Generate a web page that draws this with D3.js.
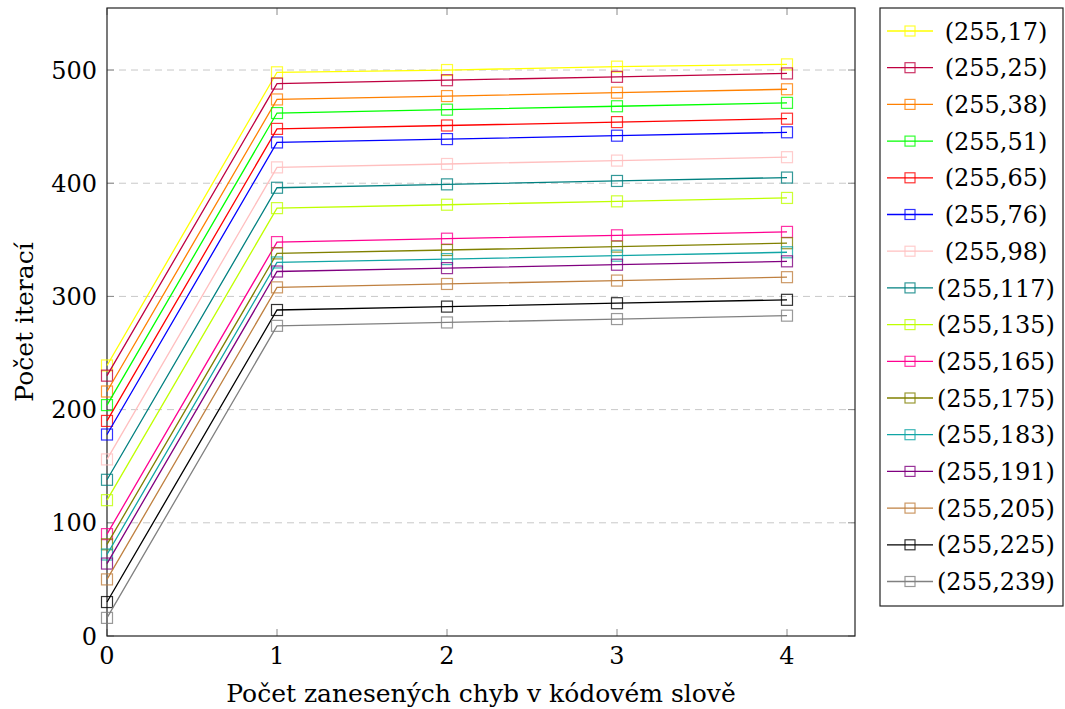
<!DOCTYPE html>
<html>
<head>
<meta charset="utf-8">
<script src="https://cdn.jsdelivr.net/npm/d3@7"></script>
<style>
  html, body { margin: 0; padding: 0; background: #fff; }
  svg { display: block; }
</style>
</head>
<body>
<svg id="chart" width="1065" height="709"></svg>
<script>
// ---- data ----
const xValues = [0, 1, 2, 3, 4];
const seriesNames = ["(255,17)", "(255,25)", "(255,38)", "(255,51)", "(255,65)", "(255,76)", "(255,98)", "(255,117)",
  "(255,135)", "(255,165)", "(255,175)", "(255,183)", "(255,191)", "(255,205)", "(255,225)", "(255,239)"];
const seriesColors = ["#ffff00", "#bf0040", "#ff8000", "#00ff00", "#ff0000", "#0000ff", "#ffbfbf", "#008080",
  "#bfff00", "#ff0090", "#808000", "#10a5a5", "#800080", "#bf8040", "#000000", "#808080"];
const s17  = [239, 498, 500, 503, 505];
const s25  = [230, 488, 491, 494, 497];
const s38  = [216, 474, 477, 480, 483];
const s51  = [204, 462, 465, 468, 471];
const s65  = [190, 448, 451, 454, 457];
const s76  = [178, 436, 439, 442, 445];
const s98  = [156, 414, 417, 420, 423];
const s117 = [138, 396, 399, 402, 405];
const s135 = [120, 378, 381, 384, 387];
const s165 = [90, 348, 351, 354, 357];
const s175 = [81, 338, 341, 344, 347];
const s183 = [72, 330, 333, 336, 339];
const s191 = [64, 322, 325, 328, 331];
const s205 = [50, 308, 311, 314, 317];
const s225 = [30, 288, 291, 294, 297];
const s239 = [16, 274, 277, 280, 283];
const seriesValues = [s17, s25, s38, s51, s65, s76, s98, s117, s135, s165, s175, s183, s191, s205, s225, s239];
const xTicks = [0, 1, 2, 3, 4];
const yTicks = [0, 100, 200, 300, 400, 500];
const xLabel = "Počet zanesených chyb v kódovém slově";
const yLabel = "Počet iterací";

// ---- layout ----
const FONT = "DejaVu Serif";
const svg = d3.select("#chart");
const L = 107, R = 855, T = 8, B = 636;
const x = d3.scaleLinear().domain([0, 4.4]).range([L, R]);
const y = d3.scaleLinear().domain([0, 554.8]).range([B, T]);
const fs = 24, fsLab = 25;

function txt(g, size) {
  return g.append("text").attr("font-family", FONT).attr("font-size", size || fs).attr("fill", "#000");
}

// grid
svg.append("g").selectAll("line").data(yTicks.filter(d => d > 0)).join("line")
  .attr("x1", L).attr("x2", R).attr("y1", d => y(d)).attr("y2", d => y(d))
  .attr("stroke", "#c8c8c8").attr("stroke-width", 1).attr("stroke-dasharray", "7,5");

// ticks (inward, both sides)
const tk = 7;
const tg = svg.append("g").attr("stroke", "#8a8a8a").attr("stroke-width", 1);
xTicks.forEach(d => {
  tg.append("line").attr("x1", x(d)).attr("x2", x(d)).attr("y1", B).attr("y2", B - tk);
  tg.append("line").attr("x1", x(d)).attr("x2", x(d)).attr("y1", T).attr("y2", T + tk);
});
yTicks.forEach(d => {
  tg.append("line").attr("x1", L).attr("x2", L + tk).attr("y1", y(d)).attr("y2", y(d));
  tg.append("line").attr("x1", R).attr("x2", R - tk).attr("y1", y(d)).attr("y2", y(d));
});

// frame
svg.append("rect").attr("x", L).attr("y", T).attr("width", R - L).attr("height", B - T)
  .attr("fill", "none").attr("stroke", "#222").attr("stroke-width", 1.2);

// tick labels
const xl = svg.append("g");
xTicks.forEach(d => txt(xl).attr("x", x(d)).attr("y", 664).attr("text-anchor", "middle").text(d));
const yl = svg.append("g");
yTicks.forEach(d => txt(yl).attr("x", 97).attr("y", y(d)).attr("dy", "0.36em").attr("text-anchor", "end").text(d));

// axis labels
txt(svg, fsLab).attr("x", (L + R) / 2).attr("y", 702).attr("text-anchor", "middle").text(xLabel);
txt(svg, fsLab).attr("transform", `translate(33,${(T + B) / 2}) rotate(-90)`)
  .attr("text-anchor", "middle").text(yLabel);

// series
const line = d3.line().x((d, i) => x(xValues[i])).y(d => y(d));
const ms = 11;
seriesValues.forEach((vals, si) => {
  const c = seriesColors[si];
  const g = svg.append("g");
  g.append("path").attr("d", line(vals)).attr("fill", "none").attr("stroke", c).attr("stroke-width", 1.3);
  g.selectAll("rect").data(vals).join("rect")
    .attr("x", (d, i) => x(xValues[i]) - ms / 2).attr("y", d => y(d) - ms / 2)
    .attr("width", ms).attr("height", ms)
    .attr("fill", "none").attr("stroke", c).attr("stroke-width", 1.2).attr("stroke-opacity", 0.8);
});

// legend
const lg = svg.append("g");
lg.append("rect").attr("x", 880).attr("y", 8).attr("width", 183).attr("height", 598)
  .attr("fill", "#fff").attr("stroke", "#222").attr("stroke-width", 1.2);
const rowY0 = 31, rowStep = 36.7;
seriesNames.forEach((name, i) => {
  const cy = rowY0 + i * rowStep;
  const c = seriesColors[i];
  lg.append("line").attr("x1", 887).attr("x2", 933).attr("y1", cy).attr("y2", cy)
    .attr("stroke", c).attr("stroke-width", 1.3);
  lg.append("rect").attr("x", 910 - 5).attr("y", cy - 5).attr("width", 10).attr("height", 10)
    .attr("fill", "none").attr("stroke", c).attr("stroke-width", 1.2).attr("stroke-opacity", 0.8);
  txt(lg).attr("x", 996).attr("y", cy).attr("dy", "0.36em").attr("text-anchor", "middle").text(name);
});
</script>
</body>
</html>
